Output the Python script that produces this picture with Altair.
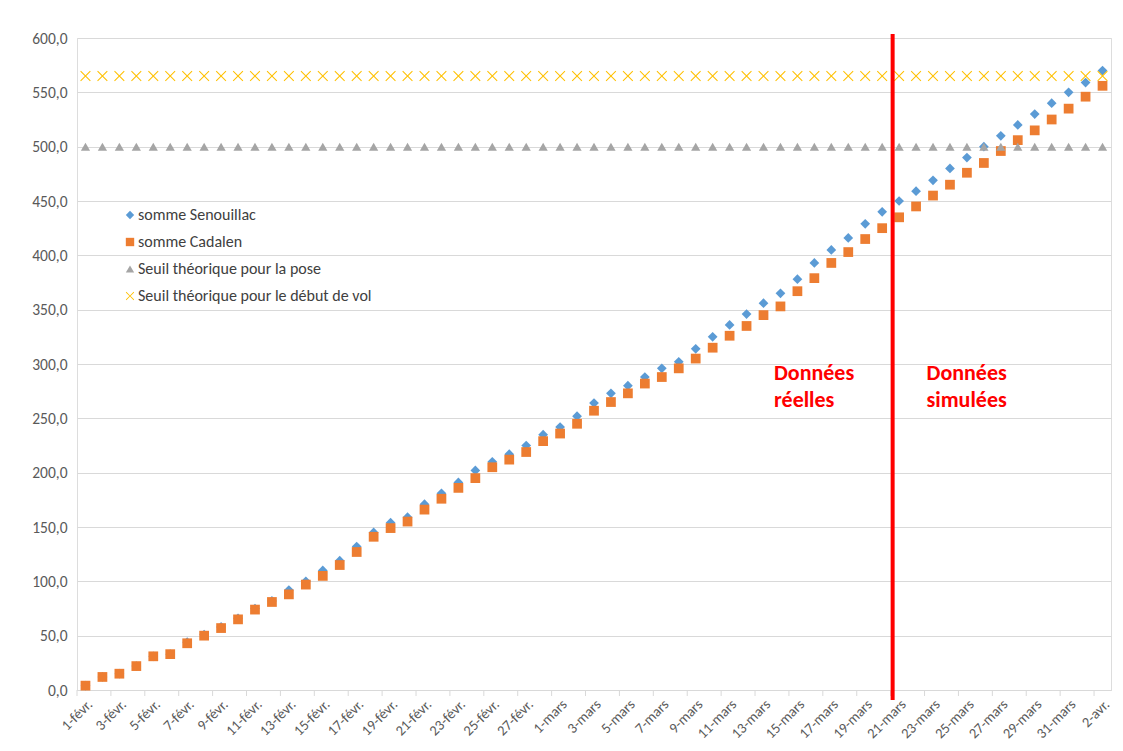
import altair as alt
import pandas as pd

# ---- categories (days) ----
feb_days = list(range(1, 29))
mar_days = list(range(1, 32))
apr_days = [1, 2]
dates = ([f"{d}-févr." for d in feb_days]
         + [f"{d}-mars" for d in mar_days]
         + [f"{d}-avr." for d in apr_days])

# ---- series values ----
senouillac = [4, 12, 15, 22, 31, 33, 44, 51, 58, 66, 75, 82,
              92, 100, 110, 119, 132, 145, 154, 159, 171, 181, 191, 202, 210,
              217, 225, 235, 242, 252, 264, 273, 280, 288, 296, 302, 314,
              325, 336, 346, 356, 365, 378, 393, 405, 416, 429, 440,
              450, 459, 469, 480, 490, 500, 510, 520, 530, 540, 550, 559, 570]
cadalen = [4, 12, 15, 22, 31, 33, 43, 50, 57, 65, 74, 81, 88, 97, 105, 115,
           127, 141, 149, 155, 166, 176, 186, 195, 205, 212, 219, 229, 236,
           245, 257, 265, 273, 282, 288, 296, 305, 315, 326, 335, 345, 353,
           367, 379, 393, 403, 415, 425, 435, 445, 455, 465, 476, 485, 496,
           506, 515, 525, 535, 546, 556]
seuil_pose = [500.0] * len(dates)
seuil_vol = [565.0] * len(dates)

series_names = ["somme Senouillac", "somme Cadalen",
                "Seuil théorique pour la pose",
                "Seuil théorique pour le début de vol"]
series_values = [senouillac, cadalen, seuil_pose, seuil_vol]
series_colors = ["#5b9bd5", "#ed7d31", "#a5a5a5", "#ffc000"]
X_PATH = ("M-1,-0.86L-0.86,-1L0,-0.14L0.86,-1L1,-0.86L0.14,0L1,0.86"
          "L0.86,1L0,0.14L-0.86,1L-1,0.86L-0.14,0Z")
series_shapes = ["diamond", "square", "triangle-up", X_PATH]
series_sizes = [95, 95, 85, 110]

# annotations
split_date = "21-mars"
notes_dates = ["14-mars", "23-mars"]
notes_text = ["Données\nréelles", "Données\nsimulées"]
notes_y = [301, 301]

rows = []
for k, (name, vals) in enumerate(zip(series_names, series_values)):
    for d, v in zip(dates, vals):
        rows.append({"date": d, "value": v, "series": name, "k": k,
                     "sz": series_sizes[k]})
df = pd.DataFrame(rows)
ticks_df = pd.DataFrame({"date": dates[::2]})
split_df = pd.DataFrame({"date": [split_date]})
notes_df = pd.DataFrame({"date": notes_dates, "value": notes_y, "label": notes_text})

W, H = 1034, 652
FONT = "Carlito, Lato, sans-serif"

xscale = alt.Scale(type="band", domain=dates, paddingInner=0, paddingOuter=0)
yscale = alt.Scale(domain=[0, 600], nice=False, zero=True)
xaxis = alt.Axis(values=dates[::2], labelAngle=-45, ticks=False, domain=True,
                 domainColor="#d9d9d9", grid=False, title=None,
                 labelFontSize=14.5, labelColor="#595959", labelPadding=7,
                 labelFont=FONT)
yaxis = alt.Axis(values=list(range(0, 601, 50)),
                 labelExpr="replace(format(datum.value, '.1f'), '.', ',')",
                 grid=True, gridColor="#d9d9d9", gridWidth=1.2, domain=False,
                 ticks=False, labelFontSize=15.5, labelColor="#595959",
                 labelPadding=10, title=None, labelFont=FONT)
legend = alt.Legend(title=None, orient="none", legendX=45, legendY=169,
                    symbolSize=70, labelFontSize=16, labelColor="#404040",
                    labelFont=FONT, rowPadding=11, labelOffset=0,
                    symbolStrokeWidth=0, labelLimit=0)

points = alt.Chart(df).mark_point(filled=True, opacity=1, strokeWidth=0).encode(
    x=alt.X("date:N", scale=xscale, axis=xaxis),
    y=alt.Y("value:Q", scale=yscale, axis=yaxis),
    color=alt.Color("series:N", scale=alt.Scale(domain=series_names, range=series_colors),
                    legend=legend),
    shape=alt.Shape("series:N", scale=alt.Scale(domain=series_names, range=series_shapes),
                    legend=legend),
    size=alt.Size("sz:Q", scale=None, legend=None),
    order=alt.Order("k:Q"),
)

ticks = alt.Chart(ticks_df).mark_rule(color="#d9d9d9", strokeWidth=1).encode(
    x=alt.X("date:N", scale=xscale, axis=xaxis, bandPosition=0),
    y=alt.value(H),
    y2=alt.value(H + 6),
)

split = alt.Chart(split_df).mark_rule(color="#ff0000", strokeWidth=4, xOffset=2).encode(
    x=alt.X("date:N", scale=xscale, axis=xaxis, bandPosition=0),
    y=alt.value(-4),
    y2=alt.value(H + 10),
)

notes = alt.Chart(notes_df).mark_text(
    align="left", baseline="top", color="#ff0000", fontSize=22,
    fontWeight="bold", lineHeight=27, lineBreak="\n", font=FONT, dx=2
).encode(
    x=alt.X("date:N", scale=xscale, axis=xaxis, bandPosition=0),
    y=alt.Y("value:Q", scale=yscale, axis=yaxis),
    text="label:N",
)

chart = alt.layer(points, ticks, split, notes).properties(
    width=W, height=H,
    autosize=alt.AutoSizeParams(type="none"),
    padding={"left": 69, "top": 30, "right": 4, "bottom": 60},
    background="white",
).configure_view(stroke="#d9d9d9", strokeWidth=1.2).configure(font=FONT)

chart.save("out.html", embed_options={"renderer": "svg", "actions": False})
